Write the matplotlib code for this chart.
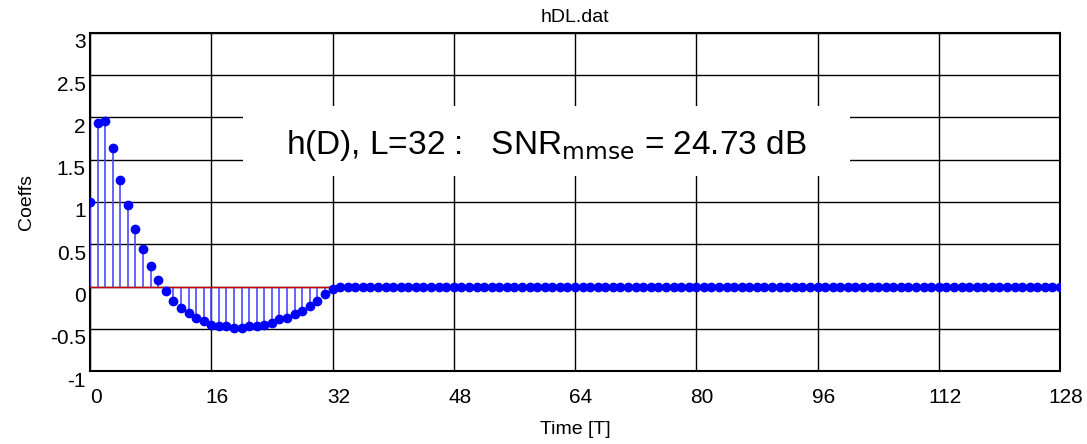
import numpy as np
import matplotlib
matplotlib.use('Agg')
import matplotlib.pyplot as plt
import matplotlib.transforms as mtransforms
from matplotlib.patches import Rectangle

plt.rcParams['font.family'] = ['Liberation Sans', 'DejaVu Sans']

# filter taps, n = 0..32
taps = [1.0, 1.94, 1.96, 1.64, 1.26, 0.96, 0.685, 0.44, 0.24, 0.075,
        -0.05, -0.17, -0.25, -0.31, -0.375, -0.41, -0.45, -0.47, -0.47,
        -0.49, -0.49, -0.47, -0.47, -0.45, -0.43, -0.39, -0.37, -0.33,
        -0.29, -0.23, -0.17, -0.09, -0.03]
N_total = 129
L = 32
snr_mmse = 24.73
xticks = [0, 16, 32, 48, 64, 80, 96, 112, 128]
yticks = [-1, -0.5, 0, 0.5, 1, 1.5, 2, 2.5, 3]
ytick_labels = ['-1', '-0.5', '0', '0.5', '1', '1.5', '2', '2.5', '3']

n = np.arange(N_total)
h = np.zeros(N_total)
h[:len(taps)] = taps

fig = plt.figure(figsize=(10.87, 4.44), dpi=100)
ax = fig.add_axes([0.0828, 0.1644, 0.8924, 0.7613])

# taps part, red baseline
ml, sl, bl = ax.stem(n[:L + 1], h[:L + 1])
ml.set(color='#0000ff', markersize=6, zorder=4)
sl.set(color='#4a4aff', linewidth=1.2, zorder=3)
bl.set(color='#cc0000', linewidth=1.0, zorder=3)

# rest (zeros)
ml2, sl2, bl2 = ax.stem(n[L + 1:], h[L + 1:])
ml2.set(color='#0000ff', markersize=6, zorder=4)
sl2.set(color='#4a4aff', linewidth=1.2, zorder=3)
bl2.set_visible(False)

ax.set_xlim(0, 128)
ax.set_ylim(-1, 3)
ax.set_xticks(xticks)
ax.set_yticks(yticks)
ax.set_yticklabels(ytick_labels)
ax.tick_params(length=0, labelsize=15)
ax.tick_params(axis='x', pad=12)
ax.tick_params(axis='y', pad=3)
# matlab-ish label offsets (x labels a bit right, y labels a bit low)
for lab in ax.get_xticklabels():
    lab.set_transform(lab.get_transform() + mtransforms.ScaledTranslation(6/100, 0, fig.dpi_scale_trans))
for lab in ax.get_yticklabels():
    lab.set_transform(lab.get_transform() + mtransforms.ScaledTranslation(0, -8/100, fig.dpi_scale_trans))

ax.grid(True, color='black', linewidth=1.0, linestyle='-')
ax.set_axisbelow(True)
for s in ax.spines.values():
    s.set_linewidth(1.5)
    s.set_color('black')

ax.set_xlabel('Time [T]', fontsize=14, labelpad=10)
ax.set_ylabel('Coeffs', fontsize=14, labelpad=11)
ax.set_title('hDL.dat', fontsize=14, pad=8)

# white box behind the annotation, covers grid lines
ax.add_patch(Rectangle((20.2, 1.31), 80.1, 0.83, facecolor='white',
                       edgecolor='none', zorder=1.5))
ax.text(60.2, 1.67, r'h(D), L=%d :   SNR$_{\mathrm{mmse}}$ = %.2f dB' % (L, snr_mmse),
        fontsize=24, ha='center', va='center', zorder=5)

fig.savefig('out.png', dpi=100)
